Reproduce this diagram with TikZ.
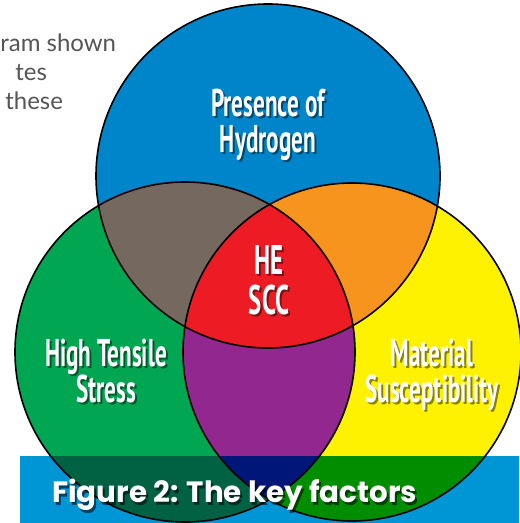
\documentclass[tikz,border=0pt]{standalone}
\usepackage{fontspec}
\newfontfamily\labelfont[FakeStretch=0.6]{PT Sans}
\newfontfamily\captionfont{Poppins}
\newfontfamily\bodyfont{Lato}
\tikzset{
  ring/.style={draw=black, line width=1.2pt},
  labeltext/.style={font=\labelfont\bfseries\fontsize{29}{27}\selectfont, text=white, align=center, inner sep=0pt},
  labelshadow/.style={labeltext, text=black, text opacity=0.45},
  captext/.style={font=\captionfont\bfseries\fontsize{22}{26}\selectfont, text=white, anchor=base west, inner sep=0pt},
  capshadow/.style={captext, text=black, text opacity=0.55},
  bodytext/.style={font=\bodyfont\fontsize{18}{21}\selectfont, text={rgb, 255:red, 85; green, 85; blue, 85 }, anchor=base west, inner sep=0pt},
}
\begin{document}
\begin{tikzpicture}[x=0.75pt,y=0.75pt,yscale=-1,xscale=1]
\useasboundingbox (0,0) rectangle (519,523);

\coordinate (hc) at (268,176);
\coordinate (sc) at (185,352);
\coordinate (mc) at (352,352);

% Text Node
\draw (0,52) node (body1) [bodytext] {ram shown};
% Text Node
\draw (15,81) node (body2) [bodytext] {tes};
% Text Node
\draw (5,110) node (body3) [bodytext] {these};

%Shape: Circle [hydrogen]
\fill [fill={rgb, 255:red, 0; green, 133; blue, 202 }] (hc) circle [radius=172];
%Shape: Circle [stress]
\fill [fill={rgb, 255:red, 0; green, 166; blue, 81 }] (sc) circle [radius=170];
%Shape: Circle [material]
\fill [fill={rgb, 255:red, 255; green, 242; blue, 0 }] (mc) circle [radius=169];

%Shape: Overlap stress/material
\begin{scope}
\clip (sc) circle [radius=170];
\fill [fill={rgb, 255:red, 146; green, 39; blue, 143 }] (mc) circle [radius=169];
\end{scope}

%Shape: Overlaps with hydrogen
\begin{scope}
\clip (hc) circle [radius=172];
\fill [fill={rgb, 255:red, 117; green, 104; blue, 95 }] (sc) circle [radius=170];
\fill [fill={rgb, 255:red, 247; green, 148; blue, 29 }] (mc) circle [radius=169];
\clip (sc) circle [radius=170];
\fill [fill={rgb, 255:red, 237; green, 28; blue, 36 }] (mc) circle [radius=169];
\end{scope}

%Shape: Circle outlines
\draw [ring] (hc) circle [radius=172];
\draw [ring] (sc) circle [radius=170];
\draw [ring] (mc) circle [radius=169];

% Text Node
\draw (270,127) node (hydrogen-sh) [labelshadow] {Presence of\\Hydrogen};
\draw (268,125) node (hydrogen) [labeltext] {Presence of\\Hydrogen};
% Text Node
\draw (271,282) node (hescc-sh) [labelshadow, font=\labelfont\bfseries\fontsize{31}{30}\selectfont] {HE\\SCC};
\draw (269,280) node (hescc) [labeltext, font=\labelfont\bfseries\fontsize{31}{30}\selectfont] {HE\\SCC};
% Text Node
\draw (108,373) node (stress-sh) [labelshadow] {High Tensile\\Stress};
\draw (106,371) node (stress) [labeltext] {High Tensile\\Stress};
% Text Node
\draw (434,377) node (material-sh) [labelshadow] {Material\\Susceptibility};
\draw (432,375) node (material) [labeltext] {Material\\Susceptibility};

%Shape: Rectangle [caption band]
\begin{scope}[blend mode=multiply]
\fill [fill={rgb, 255:red, 0; green, 150; blue, 214 }] (20,456) rectangle (519,530);
\end{scope}

% Text Node
\draw (54,505) node (cap1-sh) [capshadow] {Figure 2: The key factors};
\draw (52,502) node (cap1) [captext] {Figure 2: The key factors};
% Text Node
\draw (54,549) node (cap2-sh) [capshadow] {for HE and SCC};
\draw (52,546) node (cap2) [captext] {for HE and SCC};

\end{tikzpicture}
\end{document}
